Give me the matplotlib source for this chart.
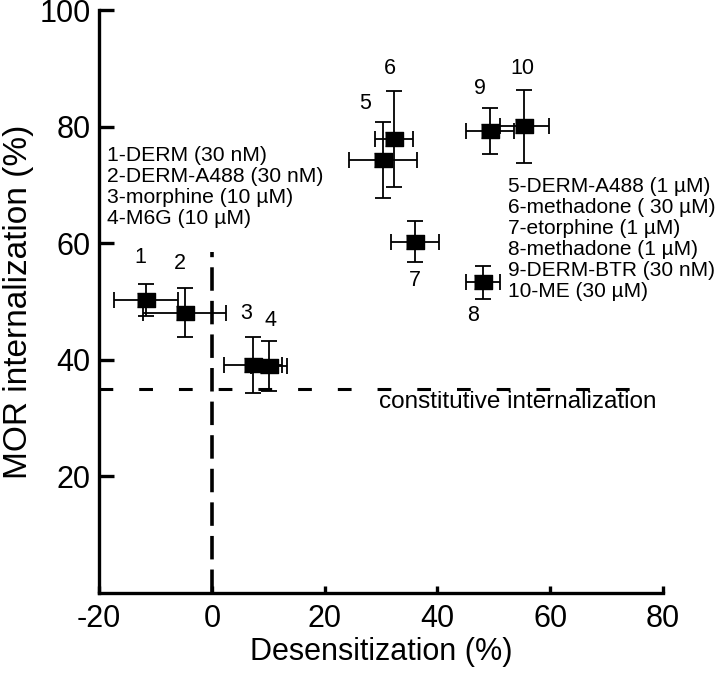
import numpy as np
import matplotlib
matplotlib.use("Agg")
import matplotlib.pyplot as plt

plt.rcParams['font.family'] = ['Liberation Sans', 'DejaVu Sans']
plt.rcParams['axes.unicode_minus'] = False

# Daten
nummern = ['1', '2', '3', '4', '5', '6', '7', '8', '9', '10']
desens = [-11.7, -4.8, 7.3, 10.1, 30.4, 32.3, 36.0, 48.1, 49.3, 55.4]
desens_err = [5.7, 7.4, 5.1, 3.2, 6.0, 3.3, 4.2, 3.0, 4.3, 4.3]
intern = [50.3, 48.1, 39.2, 39.0, 74.3, 77.9, 60.3, 53.3, 79.3, 80.1]
intern_err = [2.7, 4.2, 4.8, 4.3, 6.6, 8.2, 3.5, 2.9, 4.0, 6.3]

legende_links = ['1-DERM (30 nM)', '2-DERM-A488 (30 nM)', '3-morphine (10 µM)', '4-M6G (10 µM)']
legende_rechts = ['5-DERM-A488 (1 µM)', '6-methadone ( 30 µM)', '7-etorphine (1 µM)',
                  '8-methadone (1 µM)', '9-DERM-BTR (30 nM)', '10-ME (30 µM)']

konstitutiv = 35.0

# Label-Offsets in Pixel (dx, dy nach unten positiv)
label_off = [(-6, -42), (-5, -49), (-7, -51), (2, -45), (-18, -57),
             (-4, -71), (0, 39), (-10, 33), (-10, -42), (-2, -58)]

fig = plt.figure(figsize=(7.2, 6.84), dpi=100)
ax = fig.add_axes([0.1375, 0.133, 0.7835, 0.852])

# Referenzlinien
ax.plot([-20, 78], [konstitutiv, konstitutiv], color='black', lw=2.2,
        dashes=(4.5, 8.5), zorder=1)
ax.plot([0, 0], [0, 58.5], color='black', lw=2.6, dashes=(6.5, 2.8), zorder=1)

ax.errorbar(desens, intern, xerr=desens_err, yerr=intern_err, fmt='none',
            ecolor='black', elinewidth=1.3, capsize=6, capthick=1.3, zorder=2)
ax.plot(desens, intern, linestyle='none', color='black',
        marker=[(-1.3, -1), (1.3, -1), (1.3, 1), (-1.3, 1)], markersize=13, zorder=3)

for n, xv, yv, (dx, dy) in zip(nummern, desens, intern, label_off):
    ax.annotate(n, (xv, yv), xytext=(dx * 0.72, -dy * 0.72), textcoords='offset points',
                ha='center', va='center', fontsize=15.5)

for i, t in enumerate(legende_links):
    ax.text(0.014, 0.751 - i * 0.036, t, transform=ax.transAxes, ha='left', va='center', fontsize=15.2)
for i, t in enumerate(legende_rechts):
    ax.text(0.725, 0.698 - i * 0.036, t, transform=ax.transAxes, ha='left', va='center', fontsize=15)

ax.text(0.989, 0.328, 'constitutive internalization', transform=ax.transAxes,
        ha='right', va='center', fontsize=17.5)

ax.set_xlim(-20, 80)
ax.set_ylim(0, 100)
ax.set_xticks([-20, 0, 20, 40, 60, 80])
ax.set_yticks([20, 40, 60, 80, 100])

for s in ['top', 'right']:
    ax.spines[s].set_visible(False)
for s in ['left', 'bottom']:
    ax.spines[s].set_linewidth(2.4)
ax.spines['left'].set_capstyle('projecting')

ax.tick_params(axis='y', direction='in', length=11, width=2.4, labelsize=22, pad=6)
ax.tick_params(axis='x', direction='in', length=5, width=2.4, labelsize=22, pad=8)

ax.set_xlabel('Desensitization (%)', fontsize=22, labelpad=2)
ax.set_ylabel('MOR internalization (%)', fontsize=24, labelpad=4)

fig.savefig('out.png', dpi=100)
